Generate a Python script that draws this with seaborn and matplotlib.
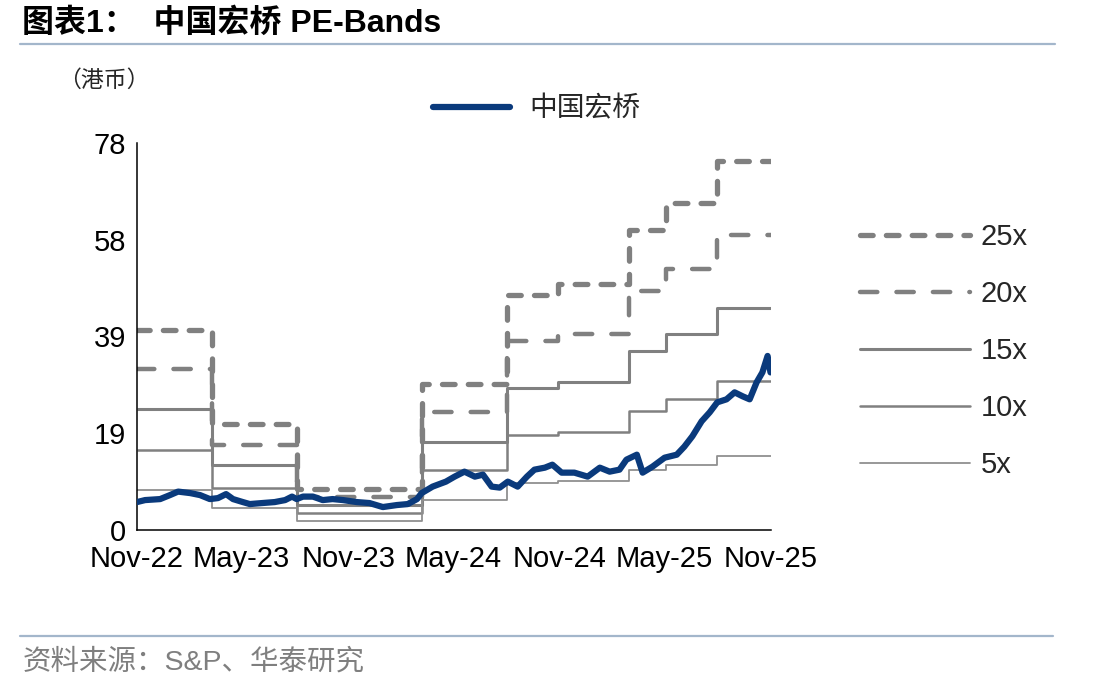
"""
中国宏桥 PE-Bands 图表复刻
"""
import pandas as pd
import numpy as np
import matplotlib
matplotlib.use("Agg")
import matplotlib.pyplot as plt
import matplotlib.dates as mdates
from matplotlib.lines import Line2D
import seaborn as sns

# 股价（港币）
price_dates = [
    "2022-11-01", "2022-11-15", "2022-12-11", "2022-12-28", "2023-01-11", "2023-02-01",
    "2023-02-18", "2023-03-07", "2023-03-21", "2023-04-04", "2023-04-16", "2023-05-03",
    "2023-05-15", "2023-06-05", "2023-06-27", "2023-07-15", "2023-07-27", "2023-08-04",
    "2023-08-15", "2023-09-01", "2023-09-18", "2023-10-05", "2023-10-23", "2023-11-16",
    "2023-12-08", "2023-12-31", "2024-01-24", "2024-02-12", "2024-02-28", "2024-03-07",
    "2024-03-26", "2024-04-18", "2024-05-03", "2024-05-20", "2024-06-07", "2024-06-21",
    "2024-07-06", "2024-07-20", "2024-08-03", "2024-08-20", "2024-09-05", "2024-09-18",
    "2024-10-06", "2024-10-19", "2024-11-04", "2024-11-26", "2024-12-19", "2025-01-09",
    "2025-01-26", "2025-02-12", "2025-02-24", "2025-03-14", "2025-03-24", "2025-04-10",
    "2025-05-01", "2025-05-22", "2025-06-04", "2025-06-18", "2025-07-04", "2025-07-18",
    "2025-07-31", "2025-08-16", "2025-08-30", "2025-09-13", "2025-09-25", "2025-10-07",
    "2025-10-17", "2025-10-26", "2025-10-31",
]
price_vals = [
    5.6, 6.0, 6.2, 7.0, 7.7, 7.4,
    7.0, 6.2, 6.4, 7.2, 6.2, 5.6,
    5.2, 5.4, 5.6, 6.0, 6.7, 6.2,
    6.7, 6.7, 6.0, 6.2, 6.0, 5.6,
    5.4, 4.6, 5.0, 5.2, 6.2, 7.4,
    8.7, 9.7, 10.7, 11.7, 10.7, 11.1,
    8.7, 8.5, 9.7, 8.7, 10.7, 12.1,
    12.5, 13.1, 11.5, 11.5, 10.7, 12.5,
    11.7, 12.1, 14.1, 15.1, 11.5, 12.7,
    14.5, 15.1, 16.7, 18.8, 21.8, 23.6,
    25.6, 26.2, 27.6, 26.8, 26.2, 29.6,
    31.6, 34.9, 31.6,
]

# PE 通道（阶梯），每段起始日期
band_dates = ["2022-11-01", "2023-03-10", "2023-08-04", "2024-03-07", "2024-08-01",
              "2024-10-28", "2025-03-01", "2025-05-04", "2025-07-30"]
band_end = "2025-11-01"
pe_25x = [40.0, 21.2, 8.3, 29.3, 47.2, 49.4, 60.1, 65.5, 74.0]
pe_20x = [32.2, 17.0, 6.7, 23.6, 37.9, 39.3, 48.0, 52.4, 59.1]
pe_15x = [24.3, 13.0, 5.0, 17.7, 28.5, 29.6, 35.9, 39.3, 44.6]
pe_10x = [16.1, 8.5, 3.4, 12.0, 19.1, 19.6, 23.8, 26.2, 29.8]
pe_5x = [8.0, 4.4, 1.8, 6.0, 9.5, 9.8, 12.0, 13.1, 14.9]

band_labels = ["25x", "20x", "15x", "10x", "5x"]
tick_labels_y = ["0", "19", "39", "58", "78"]

NAVY = "#0a3a7c"
GRAY = "#808080"
RULE = "#a3b6cb"


def main():
    sns.set_style("white")
    plt.rcParams["font.family"] = ["Liberation Sans", "Noto Sans CJK SC", "DejaVu Sans"]
    plt.rcParams["axes.unicode_minus"] = False

    fig = plt.figure(figsize=(11.12, 6.92), dpi=100)
    ax = fig.add_axes([0.1232, 0.2341, 0.5702, 0.5593])

    bd = pd.to_datetime(band_dates + [band_end])
    styles = [
        (pe_25x, 3.8, (0, (2.4, 2.5)), GRAY),
        (pe_20x, 3.2, (0, (3.9, 4.3)), GRAY),
        (pe_15x, 2.2, "-", GRAY),
        (pe_10x, 1.8, "-", GRAY),
        (pe_5x, 1.3, "-", "#909090"),
    ]
    band_handles = []
    for vals, lw, ls, col in styles:
        sns.lineplot(x=bd, y=list(vals) + [vals[-1]], ax=ax, color=col, lw=lw,
                     linestyle=ls, drawstyle="steps-post", dash_capstyle="round",
                     solid_capstyle="butt", legend=False, zorder=2)
        band_handles.append(Line2D([], [], color=col, lw=lw, linestyle=ls,
                                   dash_capstyle="round", solid_capstyle="round"))

    sns.lineplot(x=pd.to_datetime(price_dates), y=price_vals, ax=ax, color=NAVY,
                 lw=4.5, legend=False, zorder=3)

    # axes
    ax.set_xlim(pd.Timestamp("2022-11-01"), pd.Timestamp("2025-11-01"))
    ax.set_ylim(0, 77.6)
    ax.set_yticks(np.linspace(0, 77.6, 5))
    ax.set_yticklabels(tick_labels_y)
    ax.xaxis.set_major_locator(mdates.MonthLocator(bymonth=[5, 11]))
    ax.xaxis.set_major_formatter(mdates.DateFormatter("%b-%y"))
    ax.set_xlabel("")
    ax.set_ylabel("")
    for s in ["top", "right"]:
        ax.spines[s].set_visible(False)
    for s in ["left", "bottom"]:
        ax.spines[s].set_color("black")
        ax.spines[s].set_linewidth(1.1)
    ax.tick_params(axis="both", which="major", direction="out", length=5, width=1,
                   color="black", labelsize=21, labelcolor="black")
    ax.tick_params(axis="y", pad=3)
    ax.tick_params(axis="x", pad=6)
    ax.grid(False)

    # legends
    fig.legend([Line2D([], [], color=NAVY, lw=4.5)], ["中国宏桥"],
               loc="upper left", bbox_to_anchor=(0.389, 0.865), frameon=False,
               borderpad=0, borderaxespad=0, handlelength=2.8, handletextpad=0.7,
               prop={"family": ["Noto Sans CJK SC"], "size": 20})
    fig.legend(band_handles, band_labels, loc="upper left",
               bbox_to_anchor=(0.773, 0.678), frameon=False, borderpad=0,
               borderaxespad=0, handlelength=3.8, handletextpad=0.36,
               labelspacing=1.0, prop={"family": ["Liberation Sans"], "size": 21})

    # titles and notes
    fig.text(0.02, 0.966, "图表1：  中国宏桥 PE-Bands", fontsize=23, fontweight="bold",
             va="center", ha="left", color="black")
    fig.add_artist(Line2D([0.018, 0.949], [0.936, 0.936], color=RULE, lw=1.6))
    fig.text(0.052, 0.884, "（港币）", fontsize=16.5, va="center", ha="left",
             family=["Noto Sans CJK SC"])
    fig.add_artist(Line2D([0.018, 0.947], [0.081, 0.081], color=RULE, lw=1.6))
    fig.text(0.02, 0.043, "资料来源：S&P、华泰研究", fontsize=20.5, va="center", ha="left",
             color="#7f7f7f")

    fig.savefig("out.png", dpi=100, facecolor="white")
    plt.close(fig)


if __name__ == "__main__":
    main()
